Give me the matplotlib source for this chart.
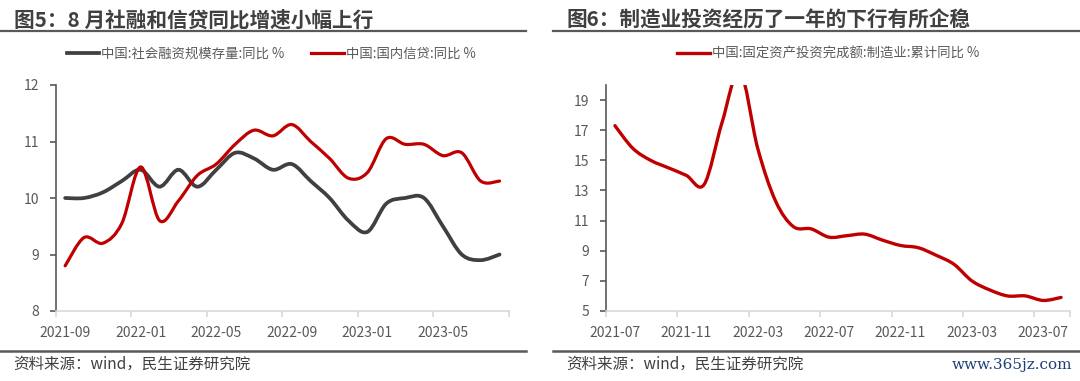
"""
Two panels: social financing vs domestic credit yoy, and manufacturing FAI yoy.
Excel-style smoothed lines drawn as Bezier paths through the monthly points.
"""
import numpy as np
import matplotlib
matplotlib.use("Agg")
import matplotlib.pyplot as plt
from matplotlib.path import Path
from matplotlib.patches import PathPatch
from matplotlib.lines import Line2D

plt.rcParams["font.family"] = ["Noto Sans CJK SC", "DejaVu Sans"]

# --- data ---
months_a = [
    "2021-09", "2021-10", "2021-11", "2021-12", "2022-01", "2022-02",
    "2022-03", "2022-04", "2022-05", "2022-06", "2022-07", "2022-08",
    "2022-09", "2022-10", "2022-11", "2022-12", "2023-01", "2023-02",
    "2023-03", "2023-04", "2023-05", "2023-06", "2023-07", "2023-08",
]
tsf_stock_yoy = [10.0, 10.0, 10.1, 10.3, 10.5, 10.2, 10.5, 10.2, 10.5, 10.8, 10.7, 10.5,
                 10.6, 10.3, 10.0, 9.6, 9.4, 9.9, 10.0, 10.0, 9.5, 9.0, 8.9, 9.0]
credit_yoy = [8.8, 9.3, 9.2, 9.55, 10.55, 9.6, 9.95, 10.4, 10.6, 10.95, 11.2, 11.1,
              11.3, 11.0, 10.7, 10.35, 10.45, 11.05, 10.95, 10.95, 10.75, 10.8, 10.3, 10.3]

months_b = [
    "2021-07", "2021-08", "2021-09", "2021-10", "2021-11", "2021-12",
    "2022-01", "2022-02", "2022-03", "2022-04", "2022-05", "2022-06",
    "2022-07", "2022-08", "2022-09", "2022-10", "2022-11", "2022-12",
    "2023-01", "2023-02", "2023-03", "2023-04", "2023-05", "2023-06",
    "2023-07", "2023-08",
]
mfg_fai_yoy = [17.3, 15.8, 15.0, 14.5, 14.0, 13.4, 17.5, 20.9, 15.8, 12.3, 10.6, 10.45,
               9.9, 10.0, 10.1, 9.7, 9.35, 9.2, 8.7, 8.1, 7.0, 6.4, 6.0, 6.0, 5.7, 5.9]

RED = "#C00000"
DARK = "#404040"
TEXT = "#595959"
LIGHT = "#D9D9D9"

W, H = 1080, 381


def smooth_path(x, y):
    """Catmull-Rom style Bezier through the points (like Excel smoothed lines)."""
    pts = np.column_stack([np.asarray(x, float), np.asarray(y, float)])
    p = np.vstack([pts[0], pts, pts[-1]])
    verts = [pts[0]]
    codes = [Path.MOVETO]
    for i in range(len(pts) - 1):
        p0, p1, p2, p3 = p[i], p[i + 1], p[i + 2], p[i + 3]
        verts += [p1 + (p2 - p0) / 6, p2 - (p3 - p1) / 6, p2]
        codes += [Path.CURVE4] * 3
    return Path(verts, codes)


def draw_line(ax, y, color, lw):
    x = np.arange(len(y))
    ax.add_patch(PathPatch(smooth_path(x, y), fill=False, edgecolor=color,
                           linewidth=lw, capstyle="round", joinstyle="round", zorder=3))


def style_axes(ax, labels, yticks, ylim):
    n = len(labels)
    ax.set_xlim(-0.5, n - 0.5)
    ax.set_ylim(*ylim)
    for s in ["top", "right"]:
        ax.spines[s].set_visible(False)
    ax.spines["left"].set_color(TEXT)
    ax.spines["left"].set_linewidth(1.2)
    ax.spines["bottom"].set_color(LIGHT)
    ax.spines["bottom"].set_linewidth(1.2)
    bounds = list(np.arange(-0.5, n - 0.5, 4)) + [n - 0.5]
    ax.set_xticks(bounds)
    ax.set_xticklabels([""] * len(bounds))
    ax.set_xticks(np.arange(0, n, 4), minor=True)
    ax.set_xticklabels(labels[::4], minor=True)
    ax.tick_params(axis="x", which="major", length=4, color=LIGHT, width=1.2)
    ax.tick_params(axis="x", which="minor", length=0, pad=10.5, labelsize=10,
                   labelcolor=TEXT)
    ax.set_yticks(yticks)
    ax.tick_params(axis="y", length=4, color=TEXT, width=1.2, pad=8,
                   labelsize=10, labelcolor=TEXT)


fig = plt.figure(figsize=(W / 100, H / 100), dpi=100)

# --- left panel ---
ax1 = fig.add_axes([55.7 / W, 1 - 311 / H, (509 - 55.7) / W, (311 - 85) / H])
draw_line(ax1, tsf_stock_yoy, DARK, 2.7)
draw_line(ax1, credit_yoy, RED, 2.3)
style_axes(ax1, months_a, [8, 9, 10, 11, 12], (8, 12))

# --- right panel ---
ax2 = fig.add_axes([606 / W, 1 - 311 / H, (1070 - 606) / W, (311 - 85) / H])
draw_line(ax2, mfg_fai_yoy, RED, 2.4)
style_axes(ax2, months_b, [5, 7, 9, 11, 13, 15, 17, 19], (5, 20))

# --- titles and rules ---
fig.text(13.8 / W, 1 - 20 / H, "图5：8 月社融和信贷同比增速小幅上行", fontsize=14.9,
         fontweight="bold", color=DARK, va="center", ha="left")
fig.text(566 / W, 1 - 20 / H, "图6：制造业投资经历了一年的下行有所企稳", fontsize=14.9,
         fontweight="bold", color=DARK, va="center", ha="left")
for x0, x1 in [(0, 526), (553, 1080)]:
    fig.add_artist(Line2D([x0 / W, x1 / W], [1 - 30.7 / H] * 2,
                          transform=fig.transFigure, color=TEXT, lw=1.6))
    fig.add_artist(Line2D([x0 / W, x1 / W], [1 - 350.7 / H] * 2,
                          transform=fig.transFigure, color=TEXT, lw=1.8))

# --- legends ---
leg_kw = dict(loc="center", frameon=False, fontsize=9.6, handlelength=2.45,
              handletextpad=0.15, columnspacing=2.0, labelcolor=TEXT,
              borderaxespad=0, borderpad=0)
fig.legend([Line2D([], [], color=DARK, lw=2.7), Line2D([], [], color=RED, lw=2.3)],
           ["中国:社会融资规模存量:同比 %", "中国:国内信贷:同比 %"], ncol=2,
           bbox_to_anchor=(271 / W, 1 - 54 / H), **leg_kw)
fig.legend([Line2D([], [], color=RED, lw=2.4)],
           ["中国:固定资产投资完成额:制造业:累计同比 %"],
           bbox_to_anchor=(828 / W, 1 - 54 / H), **leg_kw)

# --- sources ---
fig.text(13 / W, 1 - 364 / H, "资料来源：wind，民生证券研究院", fontsize=11.2,
         color=DARK, va="center", ha="left")
fig.text(566 / W, 1 - 364 / H, "资料来源：wind，民生证券研究院", fontsize=11.2,
         color=DARK, va="center", ha="left")
fig.text(1072 / W, 1 - 365 / H, "www.365jz.com", fontsize=11, family="DejaVu Serif",
         color="#1E3F78", va="center", ha="right")

fig.savefig("out.png", dpi=100)
